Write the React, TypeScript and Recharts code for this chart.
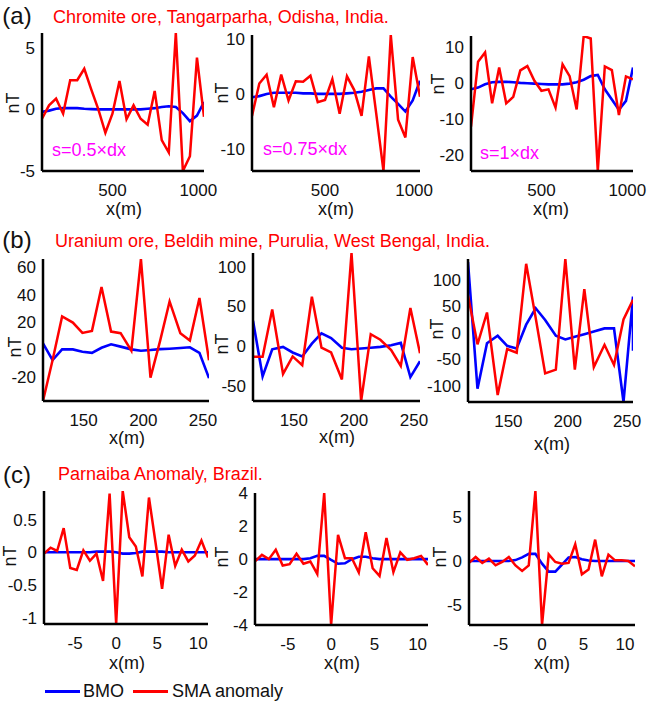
import React from 'react';
import { LineChart, Line, XAxis, YAxis } from 'recharts';

const FONT = '"Liberation Sans", Arial, Helvetica, sans-serif';
const RED = '#ff0000';
const BLUE = '#0000ff';
const MAGENTA = '#ff00ff';

// (a) Chromite ore, Tangarparha
const xA = [90, 131, 172, 213, 254, 295, 336, 377, 418, 459, 500, 541, 582, 623, 664, 705, 746, 787, 828, 869, 910, 951, 992, 1033];
const smaA1 = [-0.76, 0.33, 0.87, -0.35, 2.37, 2.37, 3.3, 1.6, 0.0, -1.9, -0.35, 2.3, -0.8, 0.33, -0.76, -1.25, 1.5, -2.5, -3.5, 6.2, -5.0, -3.8, 4.2, -0.6];
const bmoA1 = [-0.2, -0.1, 0.05, 0.1, 0.1, 0.1, 0.05, 0.02, 0, 0, 0, 0, 0, 0, 0, 0.05, 0.1, 0.2, 0.25, 0.2, -0.3, -0.95, -0.5, 0.6];
const smaA2 = [-4.0, 1.9, 3.5, -2.4, 3.5, -1.2, 2.3, 2.2, 3.3, -1.5, -1.1, 2.7, -3.6, 3.2, 0.7, -4.0, 6.8, -3.5, -14, 10.7, -4.7, -7.9, 6.7, -0.5];
const bmoA2 = [-0.6, -0.4, 0, 0.2, 0.2, 0.2, 0.2, 0.1, 0.1, 0, 0, 0, 0, 0.1, 0.2, 0.4, 0.7, 1.0, 1.0, -0.5, -1.8, -3.2, -1.2, 2.4];
const smaA3 = [-12.1, 6.0, 8.6, -5.6, 4.4, -5.6, -3.8, 3.6, 4.8, 0.7, -2.1, -1.7, -6.8, 5.3, 2.0, -7.3, 13.2, 12.5, -24.5, 4.7, 3.7, -8.9, 1.9, 1.1];
const bmoA3 = [-1.7, -1.2, -0.3, 0.3, 0.4, 0.4, 0.3, 0.1, 0, -0.1, -0.2, -0.3, -0.3, -0.3, -0.1, 0.3, 1.0, 2.0, 2.3, -1.7, -4.5, -7.4, -4.9, 4.4];

// (b) Uranium ore, Beldih mine
const xB = [116, 124, 132, 141, 149, 157, 165, 173, 181, 190, 198, 206, 214, 222, 231, 239, 247, 255];
const xB6 = [116, 124, 132, 141, 149, 157, 165, 173, 181, 190, 198, 206, 214, 222, 231, 239, 247, 255, 255];
const smaB1 = [-37.7, -8, 24, 19.6, 12, 13.5, 45.6, 13, 11.8, -1, 66, -20.6, 6, 35, 11.8, 6.4, 37.5, -8];
const bmoB1 = [4.4, -7.8, 0, 0, -1.7, -2.5, 1.2, 3.7, 2, 0, -1, -0.5, 0.2, 0.5, 1, 1.5, -2.5, -21];
const smaB2 = [-13.5, -13.5, 46, -35, -13, -24, 62, -2, -8, -42, 117, -69, 15, 8, -5, -25, 48, -9];
const bmoB2 = [32, -38, -4, -1, -8, -13, 3, 16, 10, -2, -4, -3, -2, -1, 1, 4, -39, -19];
const smaB3 = [70, -22, 38, -118, -31, -38, 130, 28, -77, -70, 139, -70, 82, -65, -23, -61, 25, 62];
const bmoB3 = [133, -106, -20, -6, -25, -30, 15, 46, 24, -6, -13, -8, -3, 2, 8, 8, -131, 68, -34];

// (c) Parnaiba Anomaly
const xC = [-8.8, -8, -7.2, -6.4, -5.6, -4.8, -4, -3.2, -2.4, -1.6, -0.8, 0, 0.8, 1.6, 2.4, 3.2, 4, 4.8, 5.6, 6.4, 7.2, 8, 8.8, 9.6, 10.4, 11.2];
const smaC1 = [-0.02, 0.07, 0.02, 0.37, -0.24, -0.27, 0.03, -0.13, -0.02, -0.44, 0.9, -1.1, 0.94, 0.23, 0.09, -0.37, 0.84, 0.15, -0.56, 0.27, -0.21, 0.04, -0.14, -0.05, 0.18, -0.08];
const bmoC1 = [0, 0, 0, 0, 0, 0, 0, 0, 0.01, 0.01, 0.01, 0, -0.02, -0.02, -0.01, 0.01, 0.01, 0.01, 0.01, 0, 0, 0, 0, 0, 0, 0];
const smaC2 = [-0.14, 0.26, 0, 0.57, -0.39, -0.3, 0.33, -0.28, -0.14, -0.9, 4.02, -4.0, 1.48, 0.06, 0.06, -0.81, 1.63, -0.55, -1.02, 1.28, -0.79, 0.41, -0.04, 0.06, 0.2, -0.35];
const bmoC2 = [0, 0, 0, 0, 0, 0, 0, 0, 0.05, 0.2, 0.2, -0.05, -0.28, -0.25, 0, 0.15, 0.15, 0.05, 0, 0, 0, 0, 0, 0, 0, 0];
const smaC3 = [-0.22, 0.45, -0.22, 0.26, -0.49, -0.11, 0.45, -0.5, -1.12, -0.49, 7.87, -7.2, 0.75, -0.11, -0.3, -0.22, 1.87, -1.5, -0.97, 2.4, -1.72, 0.71, 0.07, 0.07, 0, -0.6];
const bmoC3 = [0, 0, 0, 0, 0, 0, 0, 0.1, 0.4, 0.8, 0.8, -0.3, -1.2, -1.2, -0.4, 0.4, 0.45, 0.2, 0.05, 0, 0, 0, 0, 0, 0, 0];

const ticksA = [500, 1000];
const ticksB = [150, 200, 250];
const ticksC = [-5, 0, 5, 10];

type PanelProps = {
  left: number; top: number; right: number; bottom: number;
  xs: number[]; xsBlue?: number[]; red: number[]; blue: number[];
  xDomain: [number, number]; yDomain: [number, number];
  xTicks: number[]; yTicks: number[];
};

const YW = 44, PT = 8, PR = 24, XH = 30;
const tickStyle = { fill: '#111', fontSize: 17, fontFamily: FONT };

function Panel({ left, top, right, bottom, xs, xsBlue, red, blue, xDomain, yDomain, xTicks, yTicks }: PanelProps) {
  const plotW = right - left;
  const plotH = bottom - top;
  const redData = xs.map((x, i) => ({ x, y: red[i] }));
  const blueData = (xsBlue ?? xs).map((x, i) => ({ x, y: blue[i] }));
  return (
    <div style={{ position: 'absolute', left: left - YW, top: top - PT }}>
      <LineChart width={YW + plotW + PR} height={PT + plotH + XH} margin={{ top: PT, right: PR, left: 0, bottom: 0 }}>
        <XAxis type="number" dataKey="x" domain={xDomain} ticks={xTicks} interval={0} allowDataOverflow
          tickLine={false} tickSize={0} tickMargin={13} height={XH}
          axisLine={{ stroke: '#000', strokeWidth: 2.5 }} tick={tickStyle} />
        <YAxis type="number" domain={yDomain} ticks={yTicks} interval={0} allowDataOverflow
          tickLine={false} tickSize={0} tickMargin={7} width={YW}
          axisLine={{ stroke: '#000', strokeWidth: 2.5 }} tick={tickStyle} />
        <Line data={blueData} dataKey="y" type="linear" stroke={BLUE} strokeWidth={2.6} dot={false} isAnimationActive={false} />
        <Line data={redData} dataKey="y" type="linear" stroke={RED} strokeWidth={2.5} dot={false} isAnimationActive={false} />
      </LineChart>
    </div>
  );
}

function Txt({ x, y, children, color = '#111', size = 18, align = 'center', rotate = false }: any) {
  const tx = align === 'center' ? '-50%' : '0';
  return (
    <div style={{
      position: 'absolute', left: x, top: y, color, fontSize: size, fontFamily: FONT, lineHeight: 1,
      whiteSpace: 'nowrap', transform: `translate(${tx}, -50%)${rotate ? ' rotate(-90deg)' : ''}`,
    }}>{children}</div>
  );
}

export default function App() {
  return (
    <div style={{ position: 'absolute', left: 0, top: 0, width: 649, height: 703, background: '#fff', overflow: 'hidden' }}>
      <Panel left={42} top={33} right={204} bottom={171} xs={xA} red={smaA1} blue={bmoA1}
        xDomain={[90, 1033]} yDomain={[-5, 6.2]} xTicks={ticksA} yTicks={[-5, 0, 5]} />
      <Panel left={252} top={35} right={420} bottom={171} xs={xA} red={smaA2} blue={bmoA2}
        xDomain={[90, 1033]} yDomain={[-14, 10.7]} xTicks={ticksA} yTicks={[-10, 0, 10]} />
      <Panel left={471} top={36} right={633} bottom={171} xs={xA} red={smaA3} blue={bmoA3}
        xDomain={[90, 1033]} yDomain={[-24.5, 13.2]} xTicks={ticksA} yTicks={[-20, -10, 0, 10]} />

      <Panel left={43} top={259} right={209} bottom={401} xs={xB} red={smaB1} blue={bmoB1}
        xDomain={[116, 255]} yDomain={[-37.7, 66]} xTicks={ticksB} yTicks={[-20, 0, 20, 40, 60]} />
      <Panel left={253} top={253} right={420} bottom={401} xs={xB} red={smaB2} blue={bmoB2}
        xDomain={[116, 255]} yDomain={[-69, 117]} xTicks={ticksB} yTicks={[-50, 0, 50, 100]} />
      <Panel left={468} top={259} right={633} bottom={402} xs={xB} xsBlue={xB6} red={smaB3} blue={bmoB3}
        xDomain={[116, 255]} yDomain={[-131, 139]} xTicks={ticksB} yTicks={[-100, -50, 0, 50, 100]} />

      <Panel left={44} top={491} right={208} bottom={624} xs={xC} red={smaC1} blue={bmoC1}
        xDomain={[-8.8, 11.2]} yDomain={[-1.1, 0.94]} xTicks={ticksC} yTicks={[-1, -0.5, 0, 0.5]} />
      <Panel left={255} top={493} right={428} bottom={625} xs={xC} red={smaC2} blue={bmoC2}
        xDomain={[-8.8, 11.2]} yDomain={[-4, 4.02]} xTicks={ticksC} yTicks={[-4, -2, 0, 2, 4]} />
      <Panel left={469} top={491} right={635} bottom={625} xs={xC} red={smaC3} blue={bmoC3}
        xDomain={[-8.8, 11.2]} yDomain={[-7.2, 7.87]} xTicks={ticksC} yTicks={[-5, 0, 5]} />

      <Txt x={17} y={16} size={24}>(a)</Txt>
      <Txt x={53} y={17} color={RED} align="left">Chromite ore, Tangarparha, Odisha, India.</Txt>
      <Txt x={17} y={240} size={24}>(b)</Txt>
      <Txt x={55} y={241} color={RED} align="left">Uranium ore, Beldih mine, Purulia, West Bengal, India.</Txt>
      <Txt x={17} y={475} size={24}>(c)</Txt>
      <Txt x={58} y={474} color={RED} align="left">Parnaiba Anomaly, Brazil.</Txt>

      <Txt x={52} y={150} color={MAGENTA} align="left">s=0.5×dx</Txt>
      <Txt x={263} y={149} color={MAGENTA} align="left">s=0.75×dx</Txt>
      <Txt x={480} y={153} color={MAGENTA} align="left">s=1×dx</Txt>

      <Txt x={13} y={103} rotate>nT</Txt>
      <Txt x={222} y={93} rotate>nT</Txt>
      <Txt x={438} y={84} rotate>nT</Txt>
      <Txt x={15} y={347} rotate>nT</Txt>
      <Txt x={222} y={344} rotate>nT</Txt>
      <Txt x={437} y={329} rotate>nT</Txt>
      <Txt x={10} y={556} rotate>nT</Txt>
      <Txt x={222} y={557} rotate>nT</Txt>
      <Txt x={440} y={557} rotate>nT</Txt>

      <Txt x={124} y={209}>x(m)</Txt>
      <Txt x={336} y={209}>x(m)</Txt>
      <Txt x={551} y={209}>x(m)</Txt>
      <Txt x={127} y={438}>x(m)</Txt>
      <Txt x={337} y={437}>x(m)</Txt>
      <Txt x={552} y={444}>x(m)</Txt>
      <Txt x={127} y={663}>x(m)</Txt>
      <Txt x={342} y={663}>x(m)</Txt>
      <Txt x={552} y={663}>x(m)</Txt>

      <div style={{ position: 'absolute', left: 45, top: 690, width: 35, height: 2.5, background: BLUE }} />
      <Txt x={83} y={691} align="left">BMO</Txt>
      <div style={{ position: 'absolute', left: 133, top: 690, width: 35, height: 2.5, background: RED }} />
      <Txt x={172} y={691} align="left">SMA anomaly</Txt>
    </div>
  );
}
